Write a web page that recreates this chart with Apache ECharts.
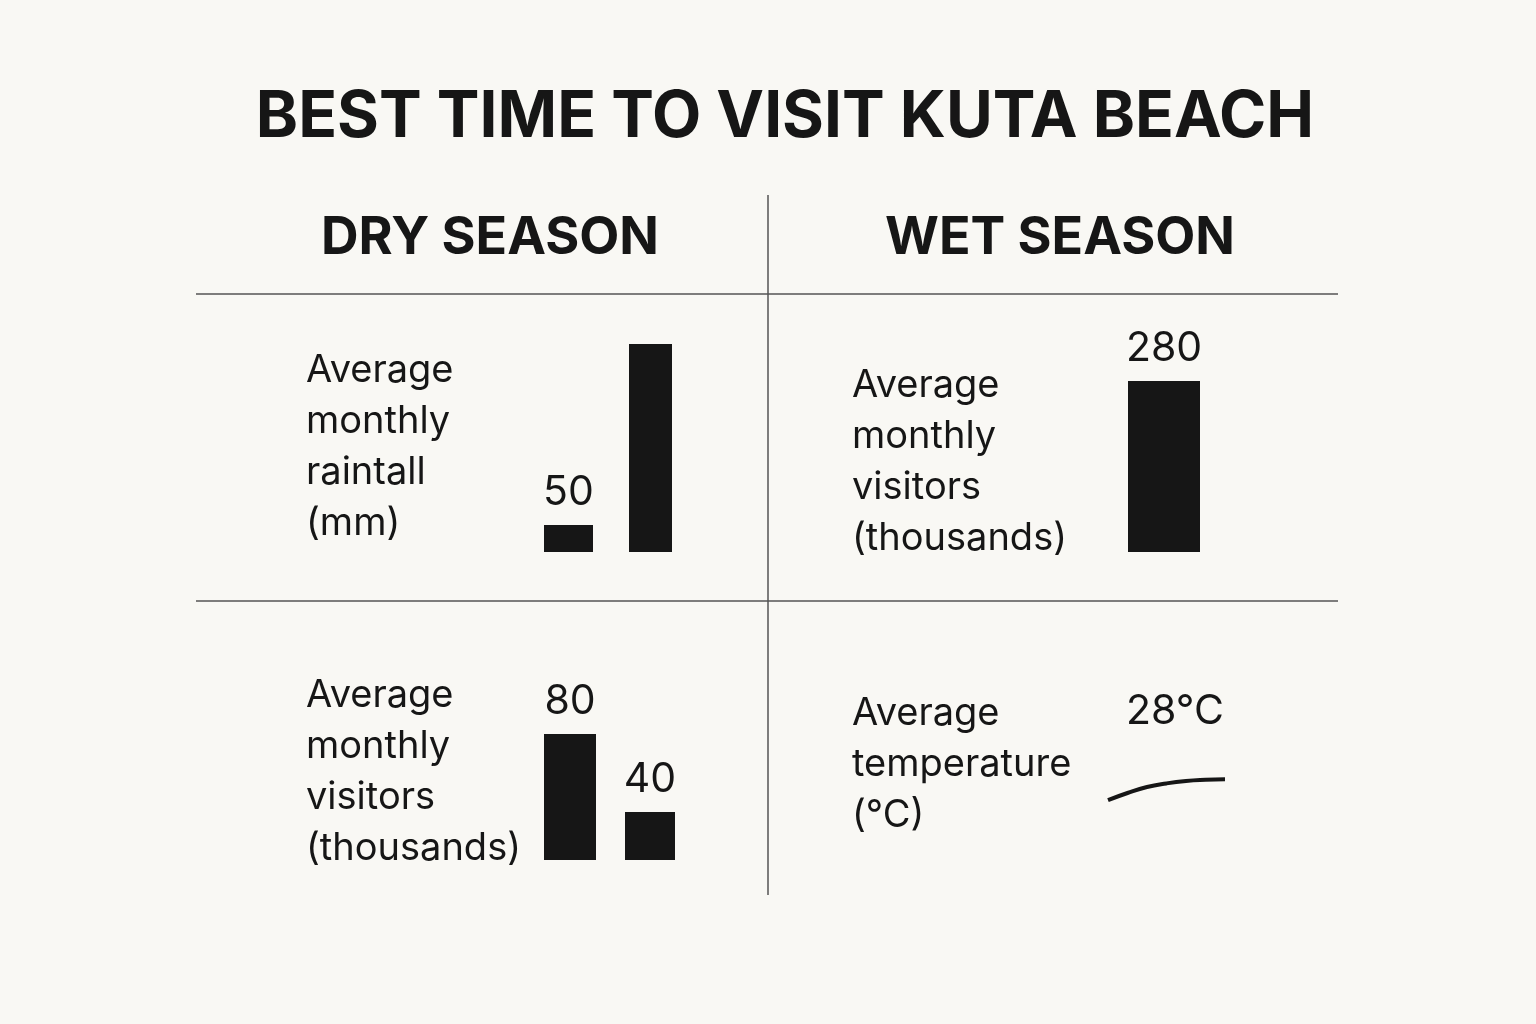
<!DOCTYPE html><html><head><meta charset="utf-8">
<script src="https://cdn.jsdelivr.net/npm/echarts@6/dist/echarts.min.js"></script>
<style>html,body{margin:0;background:#f9f8f4}#c{width:1536px;height:1024px}</style></head><body><div id="c"></div>
<script>
const titleText = 'BEST TIME TO VISIT KUTA BEACH';
const seasons = ['DRY SEASON', 'WET SEASON'];
const dryRainfall = [50, 385];
const dryRainLabels = ['50', ''];
const wetVisitors = [280];
const dryVisitors = [80, 40];
const tempLine = [27.33, 27.45, 27.55, 27.61, 27.65, 27.67, 27.68];
const tempLabel = '28°C';
const labels = [
  'Average\nmonthly\nraintall\n(mm)',
  'Average\nmonthly\nvisitors\n(thousands)',
  'Average\nmonthly\nvisitors\n(thousands)',
  'Average\ntemperature\n(°C)'
];
const F = 'Inter, "Liberation Sans", sans-serif';
const ink = '#161616';
const c = echarts.init(document.getElementById('c'));
const gdefs = [
  [544, 525, 49, 27, 50],
  [629, 344, 43, 208, 385],
  [1128, 381, 72, 171, 280],
  [544, 734, 52, 126, 80],
  [625, 812, 50, 48, 40]
];
const grid = gdefs.map(g => ({left: g[0], top: g[1], width: g[2], height: g[3]}));
grid.push({left: 1108, top: 700, width: 117, height: 120});
const xAxis = grid.map((g, i) => ({gridIndex: i, type: 'category', show: false,
  data: i < 5 ? ['a'] : tempLine.map((_, k) => k), boundaryGap: i < 5}));
const yAxis = grid.map((g, i) => i < 5 ? {gridIndex: i, type: 'value', show: false, min: 0, max: gdefs[i][4]}
  : {gridIndex: i, type: 'value', show: false, min: 27, max: 29});
const vals = [dryRainfall[0], dryRainfall[1], wetVisitors[0], dryVisitors[0], dryVisitors[1]];
const lbl = [dryRainLabels[0], dryRainLabels[1], '280', '80', '40'];
const series = vals.map((v, i) => ({type: 'bar', xAxisIndex: i, yAxisIndex: i, data: [v], barWidth: '100%',
  itemStyle: {color: ink}, silent: true,
  label: {show: lbl[i] !== '', position: 'top', distance: 12, formatter: lbl[i], fontFamily: F, fontSize: 41, color: ink}}));
series.push({type: 'line', xAxisIndex: 5, yAxisIndex: 5, data: tempLine, smooth: true, symbol: 'none',
  lineStyle: {color: ink, width: 4}, silent: true});
const lt = (x, y, t) => ({type: 'text', left: x, top: y, style: {text: t, font: '38px ' + F, fill: ink, lineHeight: 51}});
c.setOption({
  backgroundColor: '#f9f8f4', animation: false, grid, xAxis, yAxis, series,
  graphic: [
    {type: 'text', x: 785, y: 118, style: {text: titleText, font: 'bold 64px ' + F, fill: ink, align: 'center', verticalAlign: 'middle'}},
    {type: 'text', x: 490, y: 238, style: {text: seasons[0], font: 'bold 52px ' + F, fill: ink, align: 'center', verticalAlign: 'middle'}},
    {type: 'text', x: 1060, y: 238, style: {text: seasons[1], font: 'bold 52px ' + F, fill: ink, align: 'center', verticalAlign: 'middle'}},
    {type: 'line', shape: {x1: 768, y1: 195, x2: 768, y2: 895}, style: {stroke: '#555', lineWidth: 1.5}},
    {type: 'line', shape: {x1: 196, y1: 294, x2: 1338, y2: 294}, style: {stroke: '#555', lineWidth: 1.5}},
    {type: 'line', shape: {x1: 196, y1: 601, x2: 1338, y2: 601}, style: {stroke: '#555', lineWidth: 1.5}},
    lt(306, 345, labels[0]), lt(852, 360, labels[1]), lt(306, 670, labels[2]), lt(852, 688, labels[3]),
    {type: 'text', x: 1175, y: 712, style: {text: tempLabel, font: '41px ' + F, fill: ink, align: 'center', verticalAlign: 'middle'}}
  ]
});
</script></body></html>
